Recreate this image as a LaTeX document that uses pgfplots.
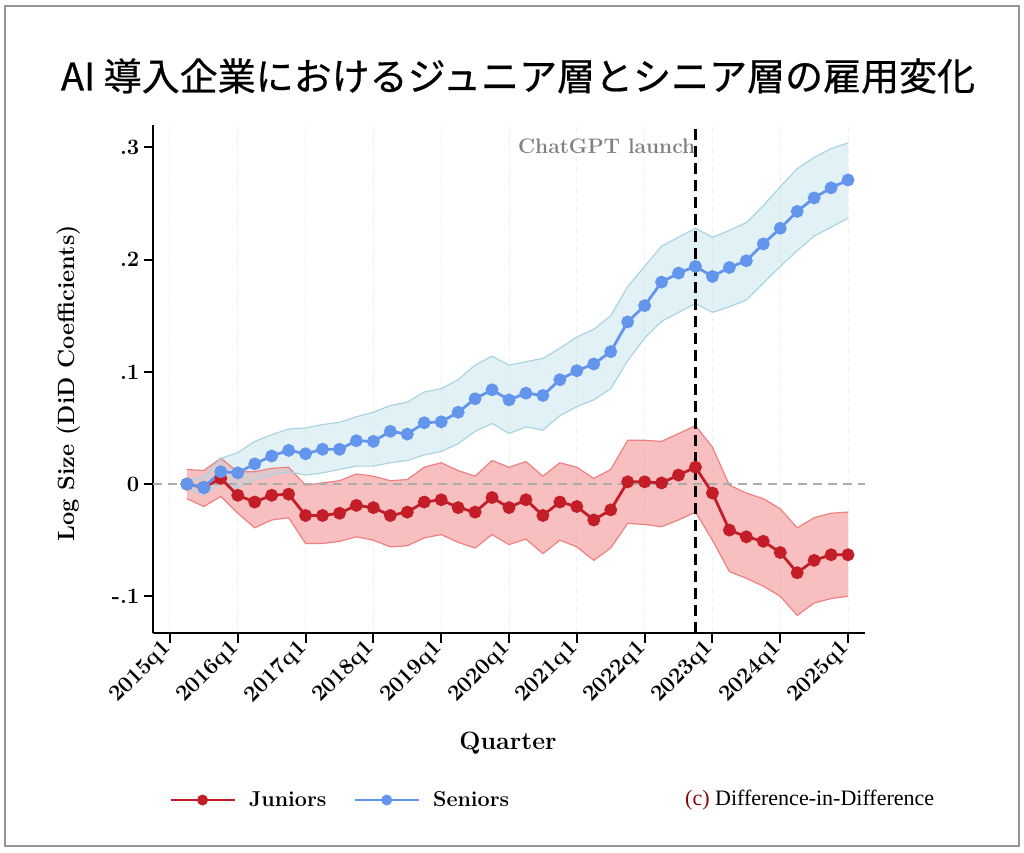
\documentclass[border=0pt]{standalone}
\usepackage{fontspec}
\usepackage{pgfplots}
\pgfplotsset{compat=1.18}
\usepackage{pgfplotstable}
\usepgfplotslibrary{fillbetween}
\newfontfamily\cjk{Noto Sans CJK JP}[FakeBold=0.6]
\newfontfamily\libserif{Liberation Serif}
\definecolor{jred}{RGB}{195,30,40}
\definecolor{sblue}{RGB}{100,149,237}
\definecolor{rband}{RGB}{240,128,128}
\definecolor{bband}{RGB}{173,216,230}
\definecolor{bedge}{RGB}{170,212,228}
\definecolor{frame}{RGB}{150,150,150}
\definecolor{capred}{RGB}{128,10,10}

\pgfplotstableread{
q y lo hi
1 0.000 -0.013 0.013
2 -0.003 -0.020 0.012
3 0.005 -0.011 0.023
4 -0.010 -0.026 0.011
5 -0.016 -0.039 0.011
6 -0.010 -0.032 0.014
7 -0.009 -0.030 0.015
8 -0.028 -0.053 -0.001
9 -0.028 -0.053 0.001
10 -0.026 -0.051 0.003
11 -0.019 -0.047 0.009
12 -0.021 -0.050 0.007
13 -0.028 -0.056 0.003
14 -0.025 -0.055 0.004
15 -0.016 -0.048 0.015
16 -0.014 -0.045 0.019
17 -0.021 -0.052 0.012
18 -0.025 -0.057 0.007
19 -0.012 -0.045 0.021
20 -0.021 -0.054 0.015
21 -0.014 -0.049 0.020
22 -0.028 -0.062 0.007
23 -0.016 -0.050 0.019
24 -0.020 -0.056 0.015
25 -0.032 -0.068 0.005
26 -0.023 -0.057 0.013
27 0.002 -0.035 0.039
28 0.002 -0.036 0.039
29 0.001 -0.038 0.038
30 0.008 -0.032 0.045
31 0.015 -0.025 0.052
32 -0.008 -0.050 0.033
33 -0.041 -0.078 -0.001
34 -0.047 -0.084 -0.008
35 -0.051 -0.091 -0.013
36 -0.061 -0.100 -0.022
37 -0.079 -0.117 -0.039
38 -0.068 -0.106 -0.030
39 -0.063 -0.102 -0.026
40 -0.063 -0.100 -0.025
}\juniors

\pgfplotstableread{
q y lo hi
1 0.000 -0.004 0.004
2 -0.003 -0.010 0.006
3 0.011 0.001 0.023
4 0.010 -0.003 0.028
5 0.018 0.004 0.038
6 0.025 0.008 0.044
7 0.030 0.011 0.049
8 0.027 0.008 0.050
9 0.031 0.010 0.053
10 0.031 0.013 0.055
11 0.0386 0.016 0.060
12 0.038 0.016 0.064
13 0.047 0.019 0.070
14 0.0445 0.021 0.073
15 0.0546 0.026 0.082
16 0.0555 0.029 0.085
17 0.064 0.036 0.093
18 0.076 0.047 0.106
19 0.084 0.054 0.114
20 0.075 0.045 0.106
21 0.081 0.051 0.109
22 0.079 0.048 0.112
23 0.093 0.061 0.121
24 0.101 0.069 0.131
25 0.107 0.075 0.138
26 0.118 0.085 0.150
27 0.1445 0.110 0.176
28 0.159 0.130 0.194
29 0.180 0.145 0.212
30 0.188 0.153 0.220
31 0.194 0.161 0.228
32 0.185 0.153 0.220
33 0.193 0.158 0.226
34 0.199 0.164 0.233
35 0.214 0.179 0.248
36 0.228 0.194 0.265
37 0.243 0.208 0.281
38 0.255 0.221 0.291
39 0.264 0.229 0.299
40 0.271 0.237 0.304
}\seniors

\begin{document}
\begin{tikzpicture}
\path (0pt,0pt) rectangle (1024pt,852pt);
\draw[frame, line width=2.5pt] (5pt,6pt) rectangle (1019pt,846pt);
\node[font=\cjk\fontsize{38}{38}\selectfont, inner sep=0pt] at (518pt,776pt) {AI 導入企業におけるジュニア層とシニア層の雇用変化};
\node[font=\libserif\fontsize{22}{22}\selectfont, anchor=west, inner sep=0pt] at (685pt,52pt) {\textcolor{capred}{(c)} Difference-in-Difference};
\begin{axis}[
  at={(153pt,218.7pt)}, anchor=south west, scale only axis,
  width=712pt, height=508.3pt,
  xmin=-1, xmax=41, ymin=-0.133, ymax=0.32,
  axis lines*=left,
  axis line style={line width=2pt, black},
  every tick/.style={line width=2pt, black},
  tick align=outside, major tick length=9.5pt,
  xtick={0,4,...,40},
  xticklabels={2015q1,2016q1,2017q1,2018q1,2019q1,2020q1,2021q1,2022q1,2023q1,2024q1,2025q1},
  x tick label style={rotate=45, anchor=east, font=\fontsize{22.5}{22.5}\selectfont\bfseries, inner sep=3pt},
  ytick={-0.1,0,0.1,0.2,0.3},
  yticklabels={-.1,0,.1,.2,.3},
  y tick label style={font=\fontsize{22}{22}\selectfont\bfseries, inner sep=4pt},
  xmajorgrids, major grid style={gray!12, line width=1pt, dash pattern=on 6pt off 4pt},
  xlabel={Quarter},
  xlabel style={at={(axis description cs:0.4986,-0.216)}, anchor=center, font=\fontsize{25}{25}\selectfont\bfseries},
  ylabel={Log Size (DiD Coefficients)},
  ylabel style={at={(axis description cs:-0.119,0.492)}, anchor=center, font=\fontsize{23.5}{23.5}\selectfont\bfseries},
  legend style={at={(axis description cs:0.0183,-0.328)}, anchor=west, draw=none, fill=none,
    legend columns=2, font=\fontsize{21.5}{21.5}\selectfont\bfseries,
    /tikz/every odd column/.append style={column sep=11pt},
    /tikz/every even column/.append style={column sep=25pt}},
  legend image code/.code={\draw[#1, /tikz/line width=2.6pt] (0pt,0pt) -- (64pt,0pt); \draw[#1, mark size=4pt] plot coordinates {(32pt,0pt)};},
]
% red band
\addplot[name path=jhi, rband, line width=1.2pt, forget plot] table[x=q, y=hi] {\juniors};
\addplot[name path=jlo, rband, line width=1.2pt, forget plot] table[x=q, y=lo] {\juniors};
\addplot[rband, fill opacity=0.5, draw=none, forget plot] fill between[of=jhi and jlo];
% blue band
\addplot[name path=shi, bedge, line width=1.2pt, forget plot] table[x=q, y=hi] {\seniors};
\addplot[name path=slo, bedge, line width=1.2pt, forget plot] table[x=q, y=lo] {\seniors};
\addplot[bband, fill opacity=0.35, draw=none, forget plot] fill between[of=shi and slo];
% reference lines
\addplot[gray!65, line width=1.4pt, dash pattern=on 9pt off 6pt, forget plot] coordinates {(-1,0) (41,0)};
\addplot[black, line width=2.5pt, dash pattern=on 11pt off 6pt, forget plot] coordinates {(31,-0.133) (31,0.32)};
% series
\addplot[jred, line width=2.8pt, mark=*, mark size=5pt, mark options={solid, fill=jred, draw=jred}] table[x=q, y=y] {\juniors};
\addlegendentry{Juniors}
\addplot[sblue, line width=2.8pt, mark=*, mark size=5pt, mark options={solid, fill=sblue, draw=sblue}] table[x=q, y=y] {\seniors};
\addlegendentry{Seniors}
\node[anchor=east, text=gray, font=\fontsize{21}{21}\selectfont\bfseries, inner sep=0pt] at (axis cs:31,0.301) {ChatGPT launch\hspace{2pt}};
\end{axis}
\end{tikzpicture}
\end{document}
